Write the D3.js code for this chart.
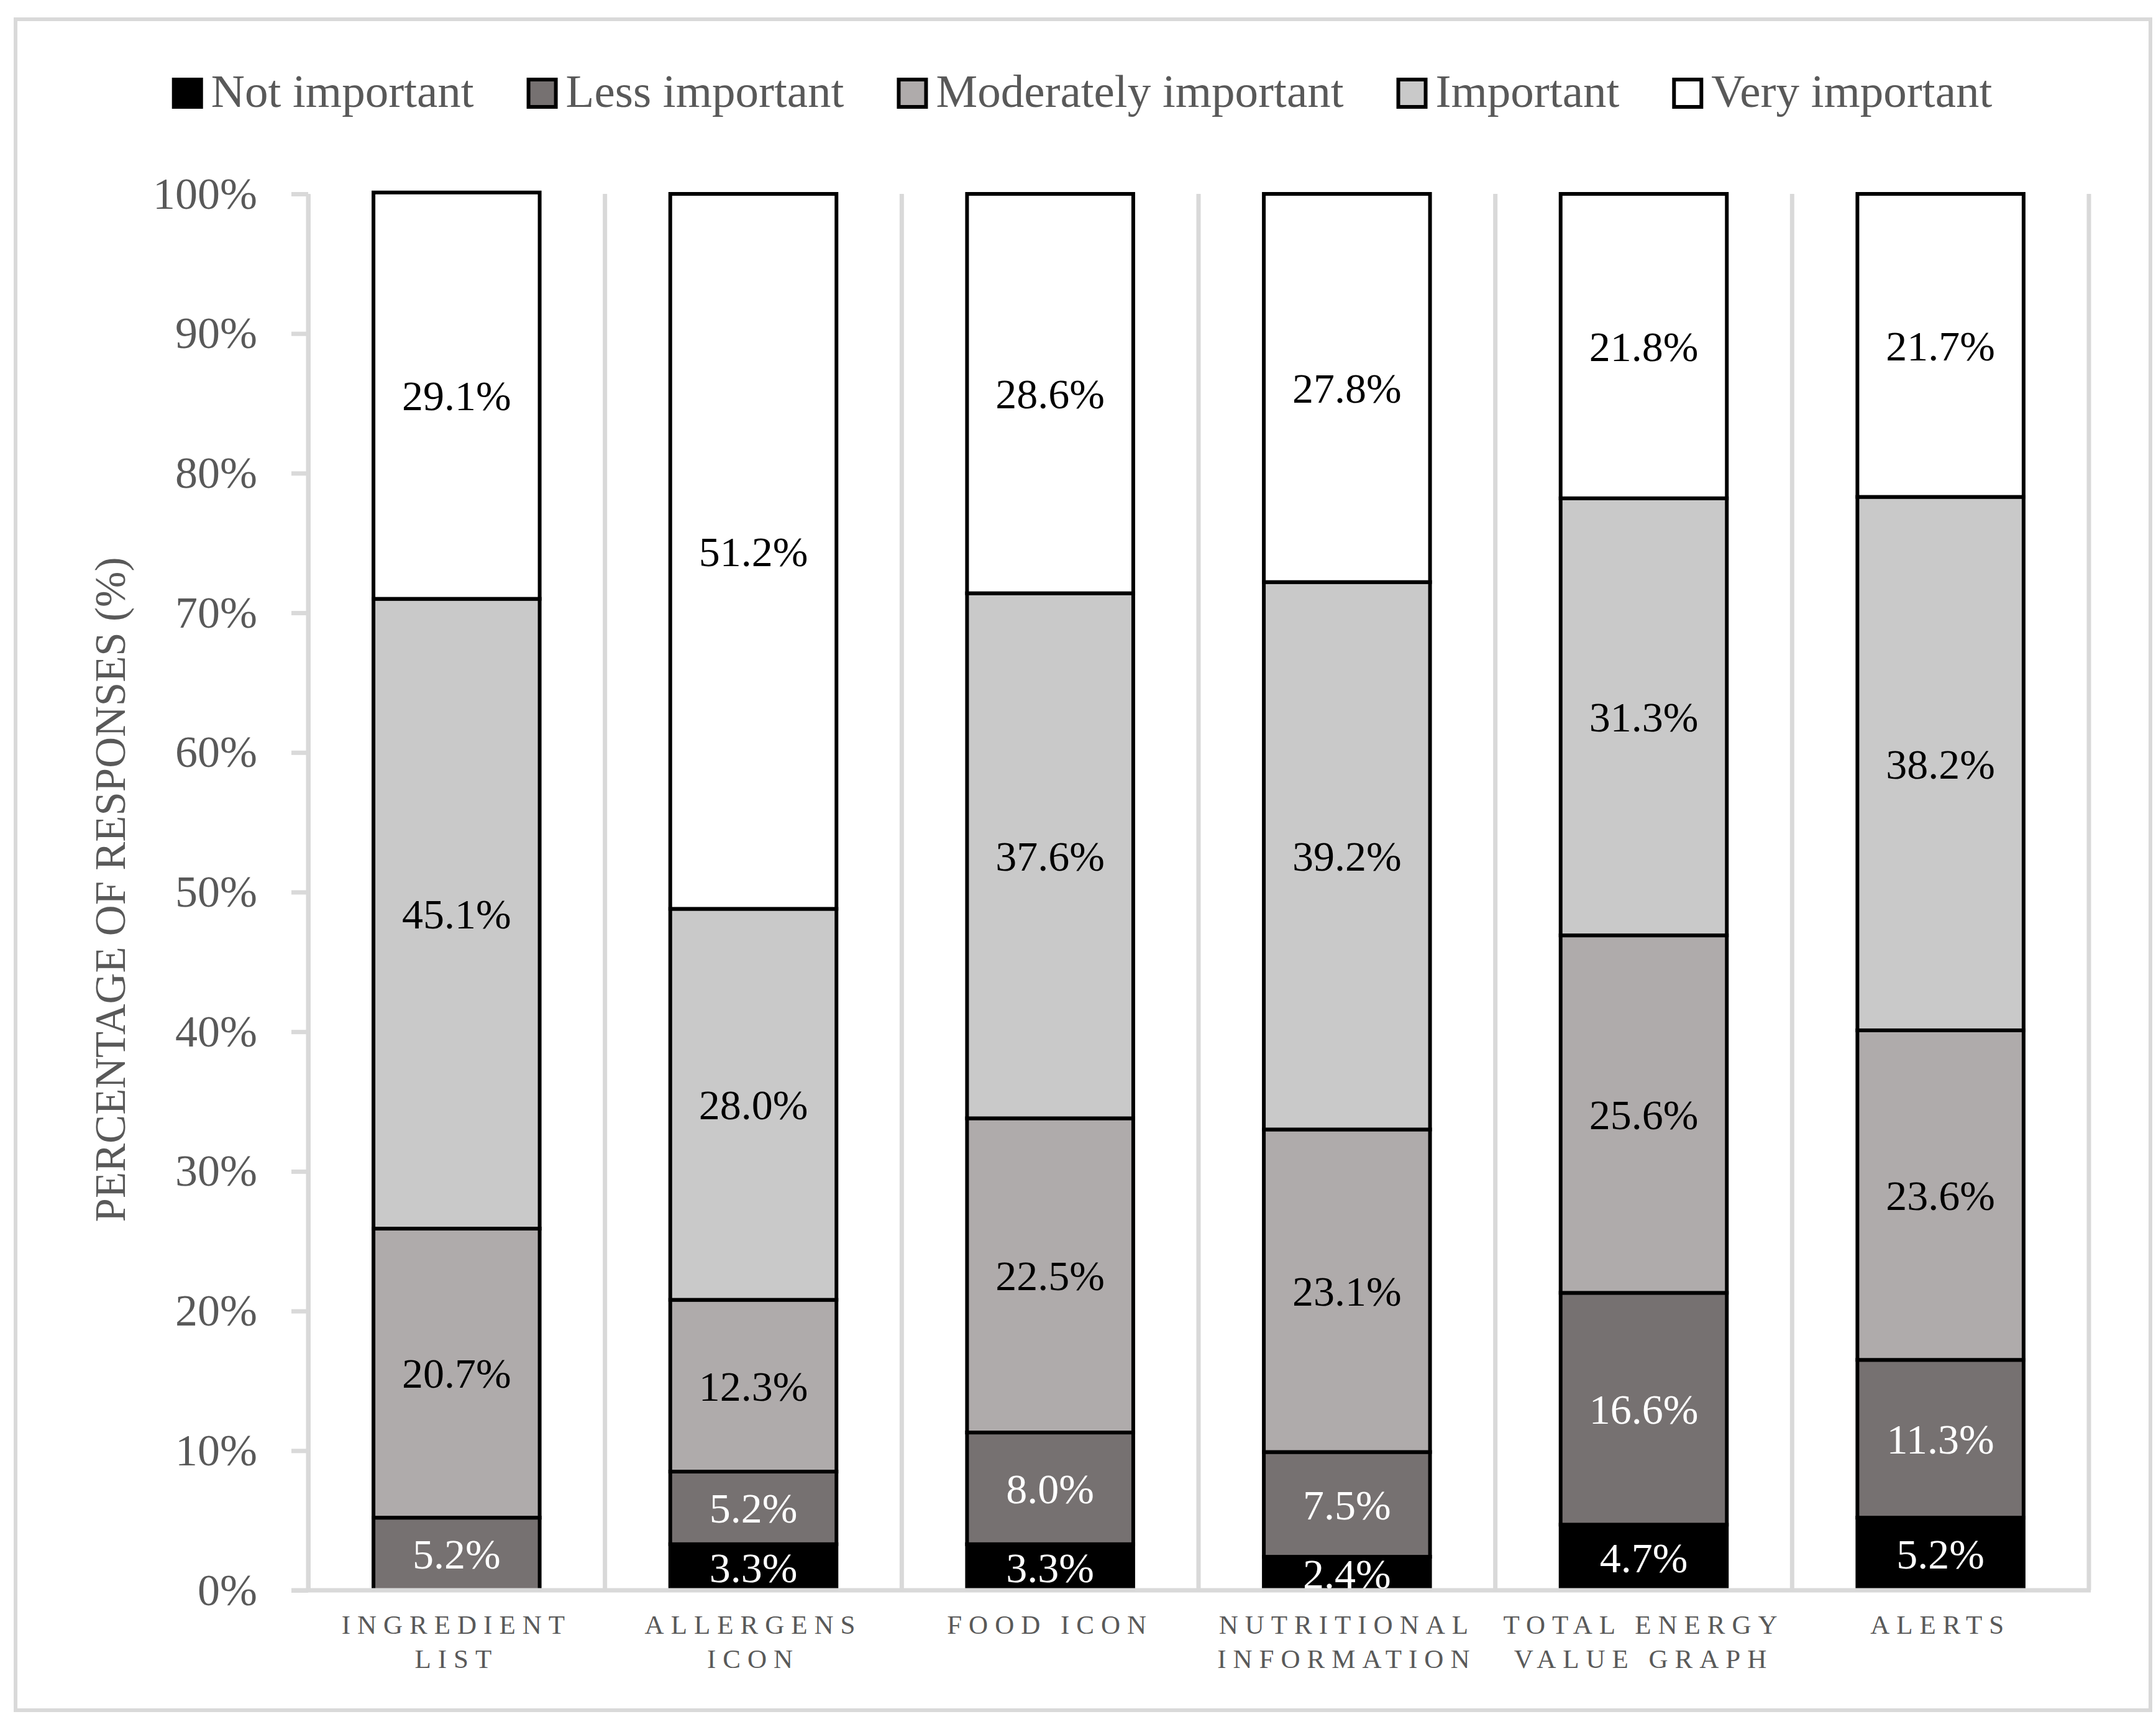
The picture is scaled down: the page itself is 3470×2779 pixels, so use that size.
<!DOCTYPE html>
<html>
<head>
<meta charset="utf-8">
<script src="https://cdn.jsdelivr.net/npm/d3@7"></script>
<style>
  body { margin: 0; background: #fff; }
  text { font-family: "Liberation Serif", "DejaVu Serif", serif; }
</style>
</head>
<body>
<div id="chart"></div>
<script>
// categories, bottom to top series
const categories = ["INGREDIENT\nLIST", "ALLERGENS\nICON", "FOOD ICON",
                    "NUTRITIONAL\nINFORMATION", "TOTAL ENERGY\nVALUE GRAPH", "ALERTS"];
const seriesNames = ["Not important", "Less important", "Moderately important",
                     "Important", "Very important"];
const notImportant        = [0.0, 3.3, 3.3, 2.4, 4.7, 5.2];
const lessImportant       = [5.2, 5.2, 8.0, 7.5, 16.6, 11.3];
const moderatelyImportant = [20.7, 12.3, 22.5, 23.1, 25.6, 23.6];
const important           = [45.1, 28.0, 37.6, 39.2, 31.3, 38.2];
const veryImportant       = [29.1, 51.2, 28.6, 27.8, 21.8, 21.7];
const yTicks = [0, 10, 20, 30, 40, 50, 60, 70, 80, 90, 100];

const fills = ["#000000", "#767171", "#afabab", "#c9c9c9", "#ffffff"];
const labelColors = ["#fff", "#fff", "#000", "#000", "#000"];
const grid = "#d9d9d9";
const textGray = "#595959";

const width = 3470, height = 2779;
const plot = {left: 496, right: 3362, top: 312, bottom: 2559};

const svg = d3.select("#chart").append("svg")
  .attr("width", width).attr("height", height);

svg.append("rect").attr("width", width).attr("height", height).attr("fill", "#fff");

// outer border
svg.append("rect")
  .attr("x", 25).attr("y", 31).attr("width", 3436).attr("height", 2721)
  .attr("fill", "none").attr("stroke", grid).attr("stroke-width", 6);

const table = categories.map((c, i) => ({
  cat: c,
  "Not important": notImportant[i],
  "Less important": lessImportant[i],
  "Moderately important": moderatelyImportant[i],
  "Important": important[i],
  "Very important": veryImportant[i]
}));
const stacked = d3.stack().keys(seriesNames)(table);

const x = d3.scaleBand().domain(categories)
  .range([plot.left, plot.right]).paddingInner(0.44).paddingOuter(0.22);
const y = d3.scaleLinear().domain([0, 100]).range([plot.bottom, plot.top]);
const step = x.step();

// vertical separators between categories
const bounds = categories.map(c => x(c) - step * 0.22).concat([plot.right]);
svg.append("g").selectAll("line").data(bounds).join("line")
  .attr("x1", d => d).attr("x2", d => d)
  .attr("y1", plot.top).attr("y2", plot.bottom)
  .attr("stroke", grid).attr("stroke-width", 7);

// bars
const layer = svg.append("g").selectAll("g").data(stacked).join("g")
  .attr("fill", (d, i) => fills[i]);
layer.selectAll("rect").data(d => d.filter(s => s[1] - s[0] > 0)).join("rect")
  .attr("x", d => x(d.data.cat))
  .attr("width", x.bandwidth())
  .attr("y", d => y(d[1]))
  .attr("height", d => y(d[0]) - y(d[1]))
  .attr("stroke", "#000").attr("stroke-width", 6);

// value labels, clipped to plot area
svg.append("clipPath").attr("id", "plotclip").append("rect")
  .attr("x", plot.left).attr("y", plot.top)
  .attr("width", plot.right - plot.left).attr("height", plot.bottom - plot.top);

const labels = svg.append("g").attr("clip-path", "url(#plotclip)");
stacked.forEach((s, si) => {
  labels.selectAll(null).data(s.filter(d => d[1] - d[0] > 0)).join("text")
    .attr("x", d => x(d.data.cat) + x.bandwidth() / 2)
    .attr("y", d => (y(d[0]) + y(d[1])) / 2)
    .attr("dy", "0.35em")
    .attr("text-anchor", "middle")
    .attr("font-size", 68)
    .attr("fill", labelColors[si])
    .text(d => d3.format(".1f")(d[1] - d[0]) + "%");
});

// y axis
const yAxis = svg.append("g")
  .attr("transform", `translate(${plot.left},0)`)
  .call(d3.axisLeft(y).tickValues(yTicks).tickFormat(d => d + "%")
        .tickSize(27).tickSizeOuter(0).tickPadding(55));
yAxis.select(".domain").attr("stroke", grid).attr("stroke-width", 7);
yAxis.selectAll(".tick line").attr("stroke", grid).attr("stroke-width", 7);
yAxis.selectAll(".tick text").attr("font-size", 72).attr("fill", textGray)
  .attr("font-family", "Liberation Serif");

// x axis
const xAxis = svg.append("g")
  .attr("transform", `translate(0,${plot.bottom})`)
  .call(d3.axisBottom(x).tickSize(0).tickSizeOuter(0));
xAxis.select(".domain").remove();
xAxis.append("line")
  .attr("x1", plot.left - 27).attr("x2", plot.right + 3)
  .attr("stroke", grid).attr("stroke-width", 7);
xAxis.selectAll(".tick text").each(function(d) {
  const t = d3.select(this).text(null)
    .attr("font-size", 43).attr("fill", textGray)
    .attr("font-family", "Liberation Serif")
    .attr("letter-spacing", 11)
    .attr("y", 70).attr("dy", null);
  d.split("\n").forEach((ln, i) => {
    t.append("tspan").attr("x", 0).attr("dy", i === 0 ? 0 : 55).text(ln);
  });
});

// y title
svg.append("text")
  .attr("transform", `translate(177,${(plot.top + plot.bottom) / 2 - 4}) rotate(-90)`)
  .attr("text-anchor", "middle").attr("dy", "0.35em")
  .attr("font-size", 69).attr("fill", textGray)
  .text("PERCENTAGE OF RESPONSES (%)");

// legend
const legend = svg.append("g");
const sq = 44, gapSq = 16, gapItem = 88;
let lx = 0;
seriesNames.forEach((name, i) => {
  const g = legend.append("g").attr("transform", `translate(${lx},0)`);
  g.append("rect").attr("x", 0).attr("y", -sq / 2).attr("width", sq).attr("height", sq)
    .attr("fill", fills[i]).attr("stroke", "#000").attr("stroke-width", 6);
  const t = g.append("text").attr("x", sq + gapSq).attr("y", 22)
    .attr("font-size", 75).attr("fill", textGray).text(name);
  lx += sq + gapSq + t.node().getComputedTextLength() + gapItem;
});
lx -= gapItem;
legend.attr("transform", `translate(${(25 + 3461) / 2 - lx / 2},150)`);
</script>
</body>
</html>
